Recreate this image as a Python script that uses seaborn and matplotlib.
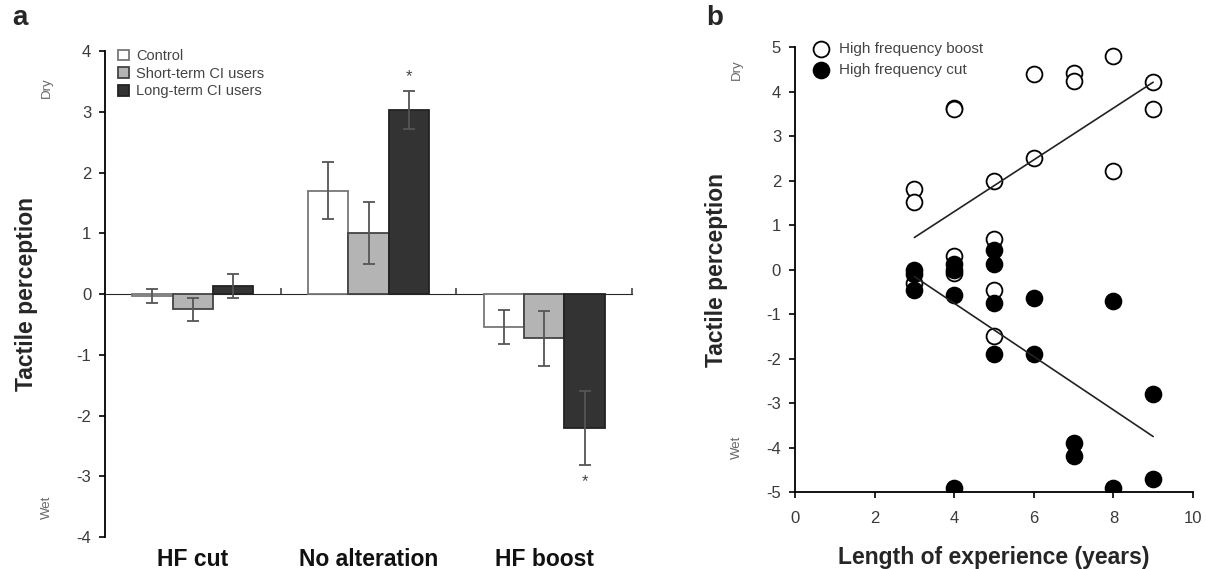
import pandas as pd
import seaborn as sns
import matplotlib.pyplot as plt

# panel a: mean tactile perception per condition and group
conditions = ['HF cut', 'No alteration', 'HF boost']
groups = ['Control', 'Short-term CI users', 'Long-term CI users']
means = {
    'Control': [-0.03, 1.70, -0.55],
    'Short-term CI users': [-0.25, 1.00, -0.73],
    'Long-term CI users': [0.13, 3.03, -2.20],
}
errors = {
    'Control': [0.12, 0.47, 0.28],
    'Short-term CI users': [0.19, 0.51, 0.45],
    'Long-term CI users': [0.20, 0.32, 0.61],
}

# panel b: length of experience vs tactile perception
boost_years = [3, 3, 3, 4, 4, 4, 4, 5, 5, 5, 5, 6, 6, 7, 7, 8, 8, 9, 9]
boost_vals = [1.81, 1.51, -0.30, 3.64, 3.60, 0.31, -0.08, 2.00, 0.68, -0.46, -1.50,
              4.39, 2.50, 4.42, 4.24, 4.80, 2.22, 4.22, 3.60]
cut_years = [3, 3, 3, 4, 4, 4, 4, 5, 5, 5, 5, 6, 6, 7, 7, 8, 8, 9, 9]
cut_vals = [0.00, -0.10, -0.45, 0.13, 0.00, -0.58, -4.90, 0.43, 0.12, -0.76, -1.90,
            -0.65, -1.90, -3.90, -4.20, -0.70, -4.90, -2.80, -4.70]

sns.set_style('white')
plt.rcParams['font.family'] = ['Liberation Sans', 'DejaVu Sans']
plt.rcParams['axes.unicode_minus'] = False

fig = plt.figure(figsize=(12.06, 5.69), dpi=100)
ax1 = fig.add_axes([0.0871, 0.0562, 0.437, 0.854])
ax2 = fig.add_axes([0.6592, 0.1353, 0.330, 0.782])

tick_col = '#3a3a3a'

# ---- panel a ----
rows = []
for g in groups:
    for c, m in zip(conditions, means[g]):
        rows.append({'condition': c, 'group': g, 'value': m})
df = pd.DataFrame(rows)

face = {'Control': 'white', 'Short-term CI users': '#b4b4b4', 'Long-term CI users': '#333333'}
edge = {'Control': '#777777', 'Short-term CI users': '#444444', 'Long-term CI users': '#222222'}

sns.barplot(data=df, x='condition', y='value', hue='group', order=conditions,
            hue_order=groups, palette=face, width=0.69, errorbar=None,
            legend=False, ax=ax1)
bars = list(ax1.containers)
for g, cont in zip(groups, bars):
    for p in cont.patches:
        p.set_edgecolor(edge[g])
        p.set_linewidth(1.3)
    xs = [p.get_x() + p.get_width() / 2 for p in cont.patches]
    ax1.errorbar(xs, means[g], yerr=errors[g], fmt='none', ecolor='#555555',
                 elinewidth=1.3, capsize=4, capthick=1.3)

ax1.legend(bars, groups, loc='upper left', bbox_to_anchor=(0.005, 1.025), frameon=False,
           fontsize=10.5, labelcolor='#444444', handlelength=0.75, handleheight=0.75,
           handletextpad=0.5, labelspacing=0.25, borderaxespad=0.3)

ax1.set_xlim(-0.5, 2.5)
ax1.set_ylim(-4, 4)
ax1.set_yticks(range(-4, 5))
ax1.set_xlabel('')
ax1.set_ylabel('Tactile perception', fontsize=16.5, fontweight='bold')
ax1.yaxis.set_label_coords(-0.127, 0.5)
for s in ['top', 'right', 'bottom']:
    ax1.spines[s].set_visible(False)
ax1.spines['left'].set_color('black')
ax1.spines['left'].set_linewidth(1.3)
ax1.tick_params(axis='y', direction='out', length=4, width=1.2, color='black',
                labelsize=12, labelcolor=tick_col, pad=6, left=True)
ax1.tick_params(axis='x', length=0, labelsize=16.5, pad=8, labelcolor='#111111')
for lab in ax1.get_xticklabels():
    lab.set_fontweight('bold')

zero_axis = ax1.secondary_xaxis(0.5)
zero_axis.set_xticks([0.5, 1.5, 2.5])
zero_axis.set_xticklabels([])
zero_axis.spines['bottom'].set_linewidth(1.3)
zero_axis.tick_params(direction='out', length=4, width=1.2, color='#444444')

# significance marks over the long-term bars
ax1.text(1.23, 3.58, '*', ha='center', va='center', fontsize=12, color='#444444')
ax1.text(2.23, -3.08, '*', ha='center', va='center', fontsize=12, color='#444444')

# ---- panel b ----
sns.scatterplot(x=boost_years, y=boost_vals, ax=ax2, s=130, facecolor='white',
                edgecolor='black', linewidth=1.3, label='High frequency boost', zorder=3)
sns.scatterplot(x=cut_years, y=cut_vals, ax=ax2, s=130, color='black',
                edgecolor='black', linewidth=1.3, label='High frequency cut', zorder=4)
sns.regplot(x=boost_years, y=boost_vals, ax=ax2, scatter=False, ci=None, truncate=True,
            line_kws={'color': '#222222', 'lw': 1.2, 'zorder': 5})
sns.regplot(x=cut_years, y=cut_vals, ax=ax2, scatter=False, ci=None, truncate=True,
            line_kws={'color': '#222222', 'lw': 1.2, 'zorder': 5})

ax2.set_xlim(0, 10)
ax2.set_ylim(-5, 5)
ax2.set_xticks(range(0, 11, 2))
ax2.set_yticks(range(-5, 6))
ax2.set_xlabel('Length of experience (years)', fontsize=16.5, fontweight='bold', labelpad=14)
ax2.set_ylabel('Tactile perception', fontsize=16.5, fontweight='bold')
ax2.yaxis.set_label_coords(-0.168, 0.5)
for s in ['top', 'right']:
    ax2.spines[s].set_visible(False)
for s in ['left', 'bottom']:
    ax2.spines[s].set_color('black')
    ax2.spines[s].set_linewidth(1.3)
ax2.tick_params(direction='out', length=4, width=1.2, color='black', labelsize=12,
                labelcolor=tick_col, pad=6, left=True, bottom=True)
ax2.tick_params(axis='x', pad=10)
ax2.legend(loc='upper left', bbox_to_anchor=(0.0, 1.035), frameon=False, fontsize=11,
           labelcolor='#444444', handletextpad=0.2, labelspacing=0.45, borderaxespad=0.3)

# side annotations
fig.text(47 / 1206, 1 - 88 / 569, 'Dry', rotation=90, ha='center', va='center',
         fontsize=9.5, color='#666666')
fig.text(47 / 1206, 1 - 507 / 569, 'Wet', rotation=90, ha='center', va='center',
         fontsize=9.5, color='#666666')
fig.text(737 / 1206, 1 - 70 / 569, 'Dry', rotation=90, ha='center', va='center',
         fontsize=9.5, color='#666666')
fig.text(737 / 1206, 1 - 447 / 569, 'Wet', rotation=90, ha='center', va='center',
         fontsize=9.5, color='#666666')

fig.text(20 / 1206, 1 - 18 / 569, 'a', ha='center', va='center', fontsize=20, fontweight='bold')
fig.text(715 / 1206, 1 - 18 / 569, 'b', ha='center', va='center', fontsize=20, fontweight='bold')

fig.savefig('out.png', dpi=100)
